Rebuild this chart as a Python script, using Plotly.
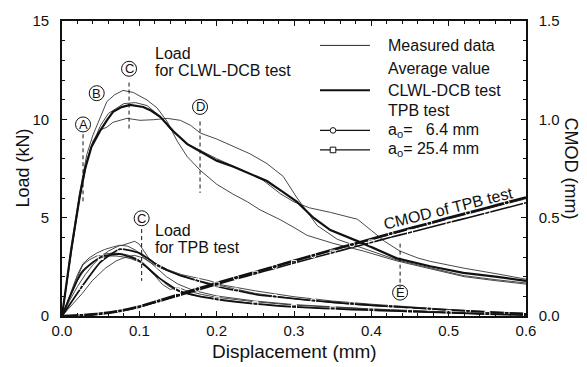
import plotly.graph_objects as go

# ---------------- data ----------------
# CLWL-DCB test, load (kN) vs displacement (mm): three measured curves + average
dcb_a_disp = [0, 0.012, 0.023, 0.032, 0.04, 0.05, 0.058, 0.068, 0.079, 0.092, 0.10, 0.11, 0.123, 0.136, 0.149,
              0.162, 0.179, 0.20, 0.221, 0.24, 0.256, 0.282, 0.30, 0.317, 0.35, 0.39, 0.433, 0.476, 0.52, 0.56, 0.60]
dcb_a_load = [0, 3.5, 6.3, 8.2, 9.2, 10.2, 10.9, 11.25, 11.47, 11.37, 11.2, 10.98, 10.58, 9.89, 8.89,
              8.1, 7.4, 6.7, 6.2, 5.8, 5.4, 4.9, 4.5, 4.1, 3.7, 3.3, 2.8, 2.4, 2.0, 1.8, 1.62]

dcb_b_disp = [0, 0.012, 0.023, 0.032, 0.04, 0.049, 0.058, 0.066, 0.084, 0.101, 0.118, 0.136, 0.153, 0.166, 0.179,
              0.2, 0.221, 0.243, 0.265, 0.286, 0.304, 0.33, 0.356, 0.39, 0.433, 0.476, 0.52, 0.56, 0.60]
dcb_b_load = [0, 3.3, 6.1, 7.9, 8.9, 9.45, 9.6, 9.85, 10.05, 9.95, 9.98, 10.05, 9.95, 9.7, 9.3,
              9.0, 8.64, 8.25, 7.75, 7.1, 6.0, 4.6, 3.9, 3.45, 2.85, 2.45, 2.05, 1.85, 1.68]

dcb_c_disp = [0, 0.012, 0.023, 0.032, 0.04, 0.05, 0.06, 0.08, 0.095, 0.11, 0.127, 0.14, 0.16, 0.18, 0.2, 0.22,
              0.24, 0.26, 0.283, 0.30, 0.32, 0.347, 0.365, 0.382, 0.40, 0.417, 0.437, 0.46, 0.476, 0.52, 0.563, 0.60]
dcb_c_load = [0, 3.3, 6.0, 7.8, 8.8, 9.7, 10.3, 10.8, 10.85, 10.7, 10.15, 9.5, 8.8, 8.4, 8.0, 7.65,
              7.3, 6.9, 6.2, 5.8, 5.5, 5.27, 5.1, 4.92, 4.35, 3.8, 3.3, 2.95, 2.78, 2.43, 2.14, 1.87]

dcb_avg_disp = [0, 0.012, 0.023, 0.03, 0.038, 0.049, 0.058, 0.066, 0.077, 0.088, 0.105, 0.115, 0.127, 0.144,
                0.162, 0.179, 0.2, 0.221, 0.243, 0.265, 0.286, 0.304, 0.325, 0.347, 0.39, 0.433, 0.476, 0.519,
                0.563, 0.60]
dcb_avg_load = [0, 3.4, 6.1, 7.5, 8.6, 9.4, 9.95, 10.38, 10.62, 10.73, 10.63, 10.45, 10.13, 9.39,
                8.74, 8.35, 7.9, 7.6, 7.25, 6.86, 6.3, 5.8, 5.0, 4.37, 3.68, 2.93, 2.53, 2.19,
                1.99, 1.79]

# TPB test, measured load curves (kN)
tpb1_disp = [0, 0.01, 0.02, 0.03, 0.04, 0.05, 0.06, 0.07, 0.08, 0.088, 0.094, 0.1, 0.106, 0.112, 0.12, 0.137,
             0.155, 0.172, 0.19, 0.207, 0.224, 0.25, 0.3, 0.35, 0.4, 0.45, 0.5, 0.55, 0.6]
tpb1_load = [0, 0.8, 1.5, 2.1, 2.6, 3.0, 3.3, 3.5, 3.62, 3.72, 3.8, 3.65, 3.3, 2.95, 2.7, 2.35,
             2.1, 1.95, 1.8, 1.58, 1.45, 1.28, 0.98, 0.76, 0.6, 0.45, 0.33, 0.22, 0.14]
tpb2_disp = [0, 0.01, 0.02, 0.027, 0.035, 0.045, 0.055, 0.065, 0.075, 0.085, 0.095, 0.105, 0.115, 0.13, 0.15,
             0.17, 0.19, 0.21, 0.23, 0.25, 0.3, 0.35, 0.4, 0.45, 0.5, 0.55, 0.6]
tpb2_load = [0, 1.1, 2.1, 2.65, 2.95, 3.2, 3.38, 3.5, 3.6, 3.55, 3.35, 3.0, 2.7, 2.4, 2.1,
             1.85, 1.68, 1.5, 1.32, 1.15, 0.88, 0.68, 0.52, 0.4, 0.28, 0.18, 0.1]
tpb3_disp = [0, 0.01, 0.02, 0.027, 0.035, 0.045, 0.055, 0.065, 0.075, 0.085, 0.095, 0.105, 0.115, 0.125, 0.135,
             0.145, 0.155, 0.17, 0.19, 0.21, 0.25, 0.3, 0.35, 0.4, 0.45, 0.5, 0.55, 0.6]
tpb3_load = [0, 1.05, 2.0, 2.6, 2.85, 3.05, 3.15, 3.2, 3.18, 3.1, 2.95, 2.7, 2.35, 1.95, 1.6,
             1.35, 1.2, 1.05, 0.92, 0.82, 0.62, 0.47, 0.38, 0.3, 0.22, 0.15, 0.09, 0.05]
tpb4_disp = [0, 0.01, 0.02, 0.03, 0.04, 0.05, 0.06, 0.07, 0.08, 0.09, 0.1, 0.11, 0.12, 0.13, 0.14, 0.15, 0.16,
             0.18, 0.2, 0.25, 0.3, 0.35, 0.4, 0.45, 0.5, 0.55, 0.6]
tpb4_load = [0, 0.95, 1.8, 2.4, 2.75, 2.95, 3.05, 3.05, 3.0, 2.9, 2.75, 2.45, 2.05, 1.6, 1.35, 1.45, 1.3,
             1.1, 0.95, 0.72, 0.55, 0.44, 0.35, 0.27, 0.19, 0.12, 0.07]
tpb5_disp = [0, 0.01, 0.026, 0.039, 0.056, 0.07, 0.078, 0.088, 0.094, 0.105, 0.115, 0.125, 0.135, 0.15, 0.17,
             0.2, 0.25, 0.3, 0.35, 0.4, 0.45, 0.5, 0.55, 0.6]
tpb5_load = [0, 0.45, 1.14, 1.79, 2.43, 2.8, 2.93, 3.05, 3.08, 2.95, 2.7, 2.35, 2.0, 1.62, 1.3,
             1.02, 0.76, 0.58, 0.46, 0.36, 0.28, 0.2, 0.13, 0.08]

# TPB averages on a common displacement grid (load in kN, CMOD in mm)
tpb_grid = [0, 0.025, 0.05, 0.075, 0.1, 0.125, 0.15, 0.175, 0.2, 0.225, 0.25, 0.275, 0.3, 0.325, 0.35,
            0.375, 0.4, 0.425, 0.45, 0.475, 0.5, 0.525, 0.55, 0.575, 0.6]
avg64_load = [0, 1.45, 2.75, 3.4, 3.2, 2.55, 2.1, 1.8, 1.5, 1.3, 1.1, 0.98, 0.88, 0.78, 0.7,
              0.62, 0.55, 0.49, 0.43, 0.37, 0.31, 0.26, 0.21, 0.16, 0.12]
avg254_load = [0, 2.2, 3.0, 3.15, 2.8, 1.95, 1.3, 1.02, 0.85, 0.72, 0.62, 0.53, 0.46, 0.41, 0.37,
               0.33, 0.3, 0.26, 0.23, 0.2, 0.16, 0.13, 0.1, 0.07, 0.05]
cmod64 = [0, 0.004, 0.012, 0.026, 0.048, 0.077, 0.108, 0.138, 0.168, 0.196, 0.224, 0.252, 0.281, 0.309, 0.337,
          0.364, 0.392, 0.419, 0.446, 0.472, 0.499, 0.525, 0.551, 0.577, 0.603]
cmod_meas = [0, 0.004, 0.012, 0.025, 0.046, 0.075, 0.105, 0.135, 0.165, 0.193, 0.221, 0.249, 0.277, 0.305, 0.333,
             0.36, 0.387, 0.414, 0.441, 0.467, 0.493, 0.519, 0.545, 0.571, 0.596]
cmod254 = [0, 0.004, 0.011, 0.024, 0.045, 0.073, 0.102, 0.131, 0.16, 0.188, 0.215, 0.242, 0.269, 0.296, 0.322,
           0.348, 0.374, 0.4, 0.425, 0.45, 0.475, 0.5, 0.525, 0.55, 0.576]

# annotation labels: (letter, disp, load, dashed line from, dashed line to)
point_labels = [("A", 0.0272, 9.74, 9.24, 5.76),
                ("B", 0.0449, 11.33, None, None),
                ("C", 0.0867, 12.57, 11.87, 9.39),
                ("D", 0.1785, 10.63, 9.89, 6.26),
                ("E", 0.4372, 1.19, 3.68, 1.44),
                ("C", 0.103, 4.97, 4.42, 1.79)]

# ---------------- figure ----------------
FONT = "Liberation Sans, Arial, sans-serif"
INK = "#111111"
L, R, T, B = 62, 61, 14, 51
W, H = 587, 367
PW, PH = W - L - R, H - T - B


def px(xp):
    return (xp - L) / PW


def py(yp):
    return (H - B - yp) / PH


fig = go.Figure()


def line(x, y, w, axis="y", shape="linear", color=INK):
    fig.add_trace(go.Scatter(x=x, y=y, mode="lines", yaxis=axis, showlegend=False, hoverinfo="skip",
                             line=dict(color=color, width=w, shape=shape, smoothing=0.5)))


def marks(x, y, symbol, axis="y"):
    fig.add_trace(go.Scatter(x=x, y=y, mode="markers", yaxis=axis, showlegend=False, hoverinfo="skip",
                             marker=dict(symbol=symbol, size=5, color="white",
                                         line=dict(color=INK, width=1))))


# CLWL-DCB
for dx, dy in [(dcb_a_disp, dcb_a_load), (dcb_b_disp, dcb_b_load), (dcb_c_disp, dcb_c_load)]:
    line(dx, dy, 0.9, color="#333333")
line(dcb_avg_disp, dcb_avg_load, 2.2)

# TPB measured
for dx, dy in [(tpb1_disp, tpb1_load), (tpb2_disp, tpb2_load), (tpb3_disp, tpb3_load),
               (tpb4_disp, tpb4_load), (tpb5_disp, tpb5_load)]:
    line(dx, dy, 0.9, color="#333333")
# TPB averages
line(tpb_grid, avg64_load, 1.8, shape="spline")
marks(tpb_grid[1::2], avg64_load[1::2], "circle-open")
line(tpb_grid, avg254_load, 1.8, shape="spline")
marks(tpb_grid[2::2], avg254_load[2::2], "square-open")

# CMOD of TPB test (right axis)
line(tpb_grid, cmod_meas, 1.0, axis="y2", shape="spline", color="#333333")
line(tpb_grid, cmod254, 1.6, axis="y2", shape="spline")
line(tpb_grid, cmod64, 2.6, axis="y2", shape="spline")
marks(tpb_grid[1::2], cmod64[1::2], "circle-open", axis="y2")
marks(tpb_grid[2::2], cmod254[2::2], "square-open", axis="y2")

shapes = []
annotations = []

# circled point labels and dashed guide lines
for letter, xd, yd, y0, y1 in point_labels:
    shapes.append(dict(type="circle", xref="x", yref="y", xsizemode="pixel", ysizemode="pixel",
                       xanchor=xd, yanchor=yd, x0=-7.5, x1=7.5, y0=-7.5, y1=7.5,
                       line=dict(color=INK, width=1)))
    annotations.append(dict(x=xd, y=yd, xref="x", yref="y", text=letter, showarrow=False,
                            font=dict(family=FONT, size=13, color=INK), xanchor="center", yanchor="middle"))
    if y0 is not None:
        shapes.append(dict(type="line", xref="x", yref="y", x0=xd, x1=xd, y0=y0, y1=y1,
                           line=dict(color=INK, width=1, dash="4px,3px")))


def text(x, y, s, size=16, angle=0, xanchor="left"):
    annotations.append(dict(x=x, y=y, xref="paper", yref="paper", text=s, showarrow=False, textangle=angle,
                            font=dict(family=FONT, size=size, color=INK),
                            xanchor=xanchor, yanchor="middle"))


text(px(153), py(47), "Load")
text(px(153), py(65), "for CLWL-DCB test")
text(px(153), py(228), "Load")
text(px(153), py(246), "for TPB test")
text(px(448), py(206), "CMOD of TPB test", angle=-14, xanchor="center")

# legend (drawn by hand)
leg_rows = [(39, "Measured data", 0.9, None), (63, "Average value", None, None),
            (85, "CLWL-DCB test", 2.0, None), (106, "TPB test", None, None),
            (126, "a<sub>o</sub>= \u00a0\u00a06.4 mm", 1.2, "circle"),
            (146, "a<sub>o</sub>= 25.4 mm", 1.2, "square")]
for yp, label, lw, mk in leg_rows:
    text(px(386), py(yp), label)
    if lw is not None:
        shapes.append(dict(type="line", xref="paper", yref="paper", x0=px(320), x1=px(370),
                           y0=py(yp), y1=py(yp), line=dict(color=INK, width=lw)))
    if mk is not None:
        shapes.append(dict(type="circle" if mk == "circle" else "rect", xref="paper", yref="paper",
                           xsizemode="pixel", ysizemode="pixel", xanchor=px(333), yanchor=py(yp),
                           x0=-2.8, x1=2.8, y0=-2.8, y1=2.8, fillcolor="white",
                           line=dict(color=INK, width=1)))

# axis titles
text(px(22), 0.5, "Load (kN)", size=18, angle=-90, xanchor="center")
text(px(571), 0.5, "CMOD (mm)", size=18, angle=90, xanchor="center")
text(0.5, py(352), "Displacement (mm)", size=19, xanchor="center")

fig.update_layout(
    width=W, height=H, margin=dict(l=L, r=R, t=T, b=B, pad=0),
    paper_bgcolor="white", plot_bgcolor="white", showlegend=False,
    font=dict(family=FONT, size=16, color=INK),
    shapes=shapes, annotations=annotations,
    xaxis=dict(range=[0, 0.6], dtick=0.1, tickformat=".1f", ticks="inside", ticklen=5, tickwidth=1,
               tickcolor=INK, showline=True, linewidth=1.8, linecolor=INK, mirror="ticks",
               showgrid=False, zeroline=False, ticklabelstandoff=0, tickfont=dict(size=15),
               minor=dict(dtick=0.02, ticks="inside", ticklen=3, tickcolor=INK, showgrid=False)),
    yaxis=dict(range=[0, 15], dtick=5, ticks="inside", ticklen=5, tickwidth=1, tickcolor=INK,
               showline=True, linewidth=1.8, linecolor=INK, mirror=True, showgrid=False,
               zeroline=False, ticklabelstandoff=8, tickfont=dict(size=15),
               minor=dict(dtick=1, ticks="inside", ticklen=3, tickcolor=INK, showgrid=False)),
    yaxis2=dict(range=[0, 1.5], dtick=0.5, tickformat=".1f", overlaying="y", side="right",
                ticks="inside", ticklen=5, tickwidth=1, tickcolor=INK, showline=True, linewidth=1.5,
                linecolor=INK, showgrid=False, zeroline=False, ticklabelstandoff=8,
                tickfont=dict(size=15),
                minor=dict(dtick=0.1, ticks="inside", ticklen=3, tickcolor=INK, showgrid=False)),
)

fig.write_html("out.html")
